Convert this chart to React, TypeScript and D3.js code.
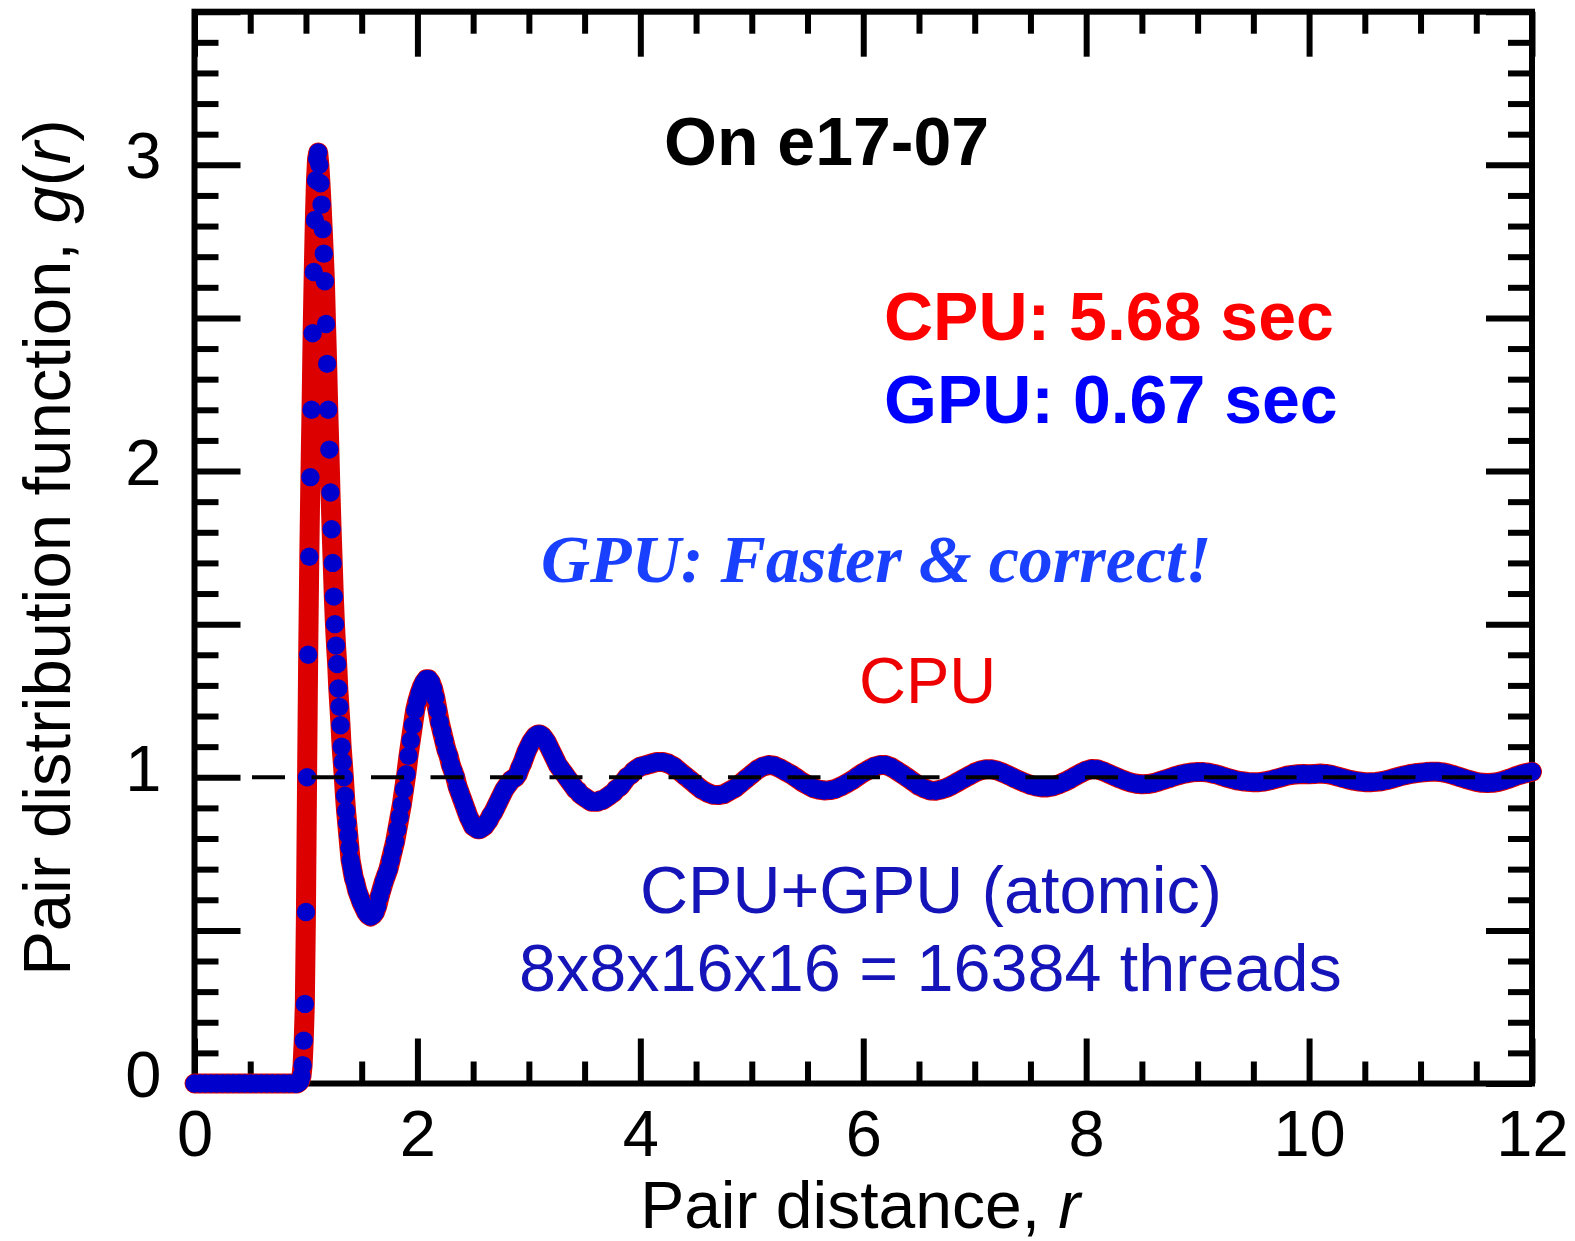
import React, { useEffect, useRef } from 'react';
import * as d3 from 'd3';

// g(r) histogram; each block is a run of equal-width bins
const zeroR0 = 0;
const zeroDr = 0.05;
const gZero = [0, 0, 0, 0, 0, 0, 0, 0, 0, 0, 0, 0, 0, 0, 0, 0, 0, 0, 0];

const peakR0 = 0.91;
const peakDr = 0.01;
const gPeak = [
  0, 0, 0.002, 0.005, 0.01, 0.025, 0.06, 0.14, 0.26, 0.56,
  1.0, 1.4, 1.72, 1.98, 2.2, 2.45, 2.65, 2.82, 2.95, 3.02,
  3.04, 3.0, 2.94, 2.87, 2.79, 2.71, 2.62, 2.48, 2.35, 2.2,
  2.07, 1.93, 1.81, 1.7, 1.59, 1.5, 1.43, 1.37, 1.29, 1.23,
  1.17, 1.1, 1.05, 1.0, 0.94, 0.89, 0.85, 0.81, 0.77, 0.73,
  0.71, 0.69, 0.67, 0.66, 0.645, 0.63, 0.62, 0.61, 0.6, 0.59,
];

const shellR0 = 1.52;
const shellDr = 0.02;
const gShell = [
  0.575, 0.56, 0.55, 0.545, 0.55, 0.56, 0.58, 0.61, 0.635, 0.66,
  0.68, 0.7, 0.73, 0.76, 0.79, 0.83, 0.87, 0.91, 0.96, 1.01,
  1.07, 1.12, 1.17, 1.22, 1.25, 1.275, 1.295, 1.31, 1.32, 1.32,
  1.31, 1.29, 1.26, 1.22, 1.18, 1.15, 1.12, 1.09, 1.07, 1.04,
  1.02, 1.0, 0.97, 0.95, 0.93, 0.91, 0.89, 0.87, 0.855, 0.84,
  0.835, 0.83, 0.83, 0.835, 0.84, 0.85, 0.86, 0.875, 0.885, 0.9,
  0.915, 0.93, 0.945, 0.96, 0.97, 0.98, 0.99, 0.995, 1.0, 1.01,
  1.03, 1.045, 1.065, 1.085, 1.1, 1.115, 1.125, 1.135, 1.14, 1.14,
  1.135, 1.125, 1.115, 1.1, 1.085, 1.07, 1.055, 1.04, 1.03, 1.02,
  1.01, 1.0, 0.99, 0.98, 0.97, 0.96, 0.955, 0.945, 0.94, 0.935,
  0.93, 0.925, 0.92, 0.92, 0.92, 0.92, 0.925, 0.925, 0.93, 0.935,
  0.94, 0.945, 0.95, 0.96, 0.965, 0.97, 0.98, 0.99, 1.0, 1.005,
  1.01, 1.02, 1.025, 1.03, 1.035,
];

const tailR0 = 4.05;
const tailDr = 0.05;
const gTail = [
  1.04, 1.045, 1.05, 1.05, 1.045, 1.035, 1.02, 1.005, 0.99, 0.975,
  0.96, 0.95, 0.943, 0.942, 0.945, 0.955, 0.965, 0.98, 0.995, 1.01,
  1.025, 1.035, 1.04, 1.038, 1.03, 1.02, 1.01, 0.998, 0.985, 0.975,
  0.965, 0.96, 0.957, 0.958, 0.962, 0.97, 0.98, 0.99, 1.003, 1.015,
  1.025, 1.035, 1.04, 1.04, 1.033, 1.022, 1.01, 0.998, 0.985, 0.972,
  0.963, 0.957, 0.956, 0.96, 0.966, 0.975, 0.985, 0.995, 1.005, 1.015,
  1.022, 1.026, 1.026, 1.022, 1.015, 1.007, 0.998, 0.99, 0.982, 0.975,
  0.97, 0.967, 0.967, 0.97, 0.976, 0.984, 0.993, 1.003, 1.013, 1.022,
  1.027, 1.026, 1.02, 1.012, 1.004, 0.996, 0.989, 0.983, 0.979, 0.977,
  0.978, 0.981, 0.986, 0.992, 0.998, 1.004, 1.009, 1.013, 1.016, 1.017,
  1.017, 1.015, 1.011, 1.006, 1.0, 0.995, 0.99, 0.987, 0.985, 0.984,
  0.984, 0.986, 0.99, 0.995, 1.0, 1.005, 1.008, 1.01, 1.011, 1.01,
  1.011, 1.012, 1.011, 1.008, 1.003, 0.998, 0.993, 0.989, 0.986, 0.984,
  0.984, 0.985, 0.987, 0.991, 0.996, 1.001, 1.006, 1.01, 1.013, 1.015,
  1.017, 1.018, 1.018, 1.016, 1.012, 1.007, 1.001, 0.995, 0.99, 0.985,
  0.982, 0.981, 0.982, 0.985, 0.99, 0.996, 1.003, 1.009, 1.014, 1.018,
];

const xMajor = [0, 2, 4, 6, 8, 10, 12];
const xMinor = [0.5, 1, 1.5, 2.5, 3, 3.5, 4.5, 5, 5.5, 6.5, 7, 7.5, 8.5, 9, 9.5, 10.5, 11, 11.5];
const yMajor = [0, 0.5, 1, 1.5, 2, 2.5, 3, 3.5];
const yMinor = [0.1, 0.2, 0.3, 0.4, 0.6, 0.7, 0.8, 0.9, 1.1, 1.2, 1.3, 1.4, 1.6, 1.7, 1.8, 1.9,
  2.1, 2.2, 2.3, 2.4, 2.6, 2.7, 2.8, 2.9, 3.1, 3.2, 3.3, 3.4];
const yLabeled = [0, 1, 2, 3];

const SANS = '"Liberation Sans", Arial, Helvetica, sans-serif';
const SERIF = '"Liberation Serif", "Times New Roman", serif';

type Pt = { r: number; g: number };

const App = () => {
  const svgRef = useRef<SVGSVGElement | null>(null);

  useEffect(() => {
    d3.select(svgRef.current).selectAll('*').remove();

    const blocks = [
      { r0: zeroR0, dr: zeroDr, g: gZero },
      { r0: peakR0, dr: peakDr, g: gPeak },
      { r0: shellR0, dr: shellDr, g: gShell },
      { r0: tailR0, dr: tailDr, g: gTail },
    ];
    const data: Pt[] = blocks.flatMap(b => b.g.map((g, i) => ({ r: b.r0 + i * b.dr, g })));

    const width = 1575;
    const height = 1241;
    const x = d3.scaleLinear().domain([0, 12]).range([194.5, 1532]);
    const y = d3.scaleLinear().domain([0, 3.5]).range([1083.5, 11.7]);

    const svg = d3.select(svgRef.current)
      .attr('width', width)
      .attr('height', height);

    svg.append('rect')
      .attr('width', width).attr('height', height).attr('fill', 'white');

    // inward ticks on all four sides
    const styleAxis = (g: any) => {
      g.select('.domain').remove();
      g.selectAll('.tick line').attr('stroke', 'black').attr('stroke-width', 6);
    };
    const addAxis = (axis: any, tx: number, ty: number) =>
      svg.append('g').attr('transform', `translate(${tx},${ty})`).call(axis).call(styleAxis);

    addAxis(d3.axisBottom(x).tickValues(xMinor).tickSizeInner(-22).tickSizeOuter(0).tickFormat(() => ''), 0, y(0));
    addAxis(d3.axisTop(x).tickValues(xMinor).tickSizeInner(-22).tickSizeOuter(0).tickFormat(() => ''), 0, y(3.5));
    addAxis(d3.axisTop(x).tickValues(xMajor).tickSizeInner(-45).tickSizeOuter(0).tickFormat(() => ''), 0, y(3.5));
    addAxis(d3.axisLeft(y).tickValues(yMinor).tickSizeInner(-24).tickSizeOuter(0).tickFormat(() => ''), x(0), 0);
    addAxis(d3.axisLeft(y).tickValues(yMajor).tickSizeInner(-46).tickSizeOuter(0).tickFormat(() => ''), x(0), 0);
    addAxis(d3.axisRight(y).tickValues(yMinor).tickSizeInner(-24).tickSizeOuter(0).tickFormat(() => ''), x(12), 0);
    addAxis(d3.axisRight(y).tickValues(yMajor).tickSizeInner(-46).tickSizeOuter(0).tickFormat(() => ''), x(12), 0);

    const bottomMajor = addAxis(
      d3.axisBottom(x).tickValues(xMajor).tickSizeInner(-45).tickSizeOuter(0).tickPadding(26).tickFormat(d3.format('d')),
      0, y(0));
    bottomMajor.attr('font-family', SANS).attr('font-size', 65);
    bottomMajor.selectAll('.tick text').attr('fill', 'black');

    const leftLabels = addAxis(
      d3.axisLeft(y).tickValues(yLabeled).tickSize(0).tickPadding(33).tickFormat(d3.format('d')),
      x(0), 0);
    leftLabels.attr('font-family', SANS).attr('font-size', 65);
    leftLabels.selectAll('.tick text').attr('fill', 'black').attr('dy', '0.2em');

    svg.append('rect')
      .attr('x', x(0)).attr('y', y(3.5))
      .attr('width', x(12) - x(0)).attr('height', y(0) - y(3.5))
      .attr('fill', 'none').attr('stroke', 'black').attr('stroke-width', 6);

    // CPU result: thick red line
    const line = d3.line<Pt>().x(d => x(d.r)).y(d => y(d.g));
    svg.append('path')
      .datum(data)
      .attr('d', line)
      .attr('fill', 'none')
      .attr('stroke', '#dd0000')
      .attr('stroke-width', 20)
      .attr('stroke-linejoin', 'round')
      .attr('stroke-linecap', 'round');

    // GPU result: blue dots
    svg.append('g')
      .selectAll('circle')
      .data(data)
      .join('circle')
      .attr('cx', d => x(d.r))
      .attr('cy', d => y(d.g))
      .attr('r', 9.2)
      .attr('fill', '#0000cc');

    // g(r) = 1 reference
    svg.append('path')
      .datum([{ r: 0, g: 1 }, { r: 12, g: 1 }])
      .attr('d', line)
      .attr('fill', 'none')
      .attr('stroke', 'black')
      .attr('stroke-width', 4)
      .attr('stroke-dasharray', '33,26.5')
      .attr('stroke-dashoffset', 2);

    // axis titles
    const xTitle = svg.append('text')
      .attr('x', (x(0) + x(12)) / 2 - 3).attr('y', 1228)
      .attr('text-anchor', 'middle')
      .attr('font-family', SANS).attr('font-size', 66);
    xTitle.append('tspan').text('Pair distance, ');
    xTitle.append('tspan').attr('font-style', 'italic').text('r');

    const yTitle = svg.append('text')
      .attr('transform', `translate(70,${(y(0) + y(3.5)) / 2}) rotate(-90)`)
      .attr('text-anchor', 'middle')
      .attr('font-family', SANS).attr('font-size', 67);
    yTitle.append('tspan').text('Pair distribution function, ');
    yTitle.append('tspan').attr('font-style', 'italic').text('g');
    yTitle.append('tspan').text('(');
    yTitle.append('tspan').attr('font-style', 'italic').text('r');
    yTitle.append('tspan').text(')');

    // annotations
    const note = (t: string, tx: number, ty: number, fill: string, size: number, weight = 'normal', family = SANS, style = 'normal') =>
      svg.append('text')
        .attr('x', tx).attr('y', ty)
        .attr('font-family', family).attr('font-size', size)
        .attr('font-weight', weight).attr('font-style', style)
        .attr('fill', fill)
        .text(t);

    note('On e17-07', 664, 165, 'black', 68, 'bold');
    note('CPU: 5.68 sec', 884, 340, '#ff0000', 68, 'bold');
    note('GPU: 0.67 sec', 884, 423, '#0000ff', 68, 'bold');
    note('GPU: Faster & correct!', 541, 582, '#1a40ff', 68, 'bold', SERIF, 'italic');
    note('CPU', 859, 703, '#ee0000', 65);
    note('CPU+GPU (atomic)', 640, 913, '#1414b8', 66.5);
    note('8x8x16x16 = 16384 threads', 519, 991, '#1414b8', 66.5);
  }, []);

  return (
    <svg ref={svgRef} style={{ position: 'absolute', left: 0, top: 0, display: 'block' }}></svg>
  );
};

export default App;
